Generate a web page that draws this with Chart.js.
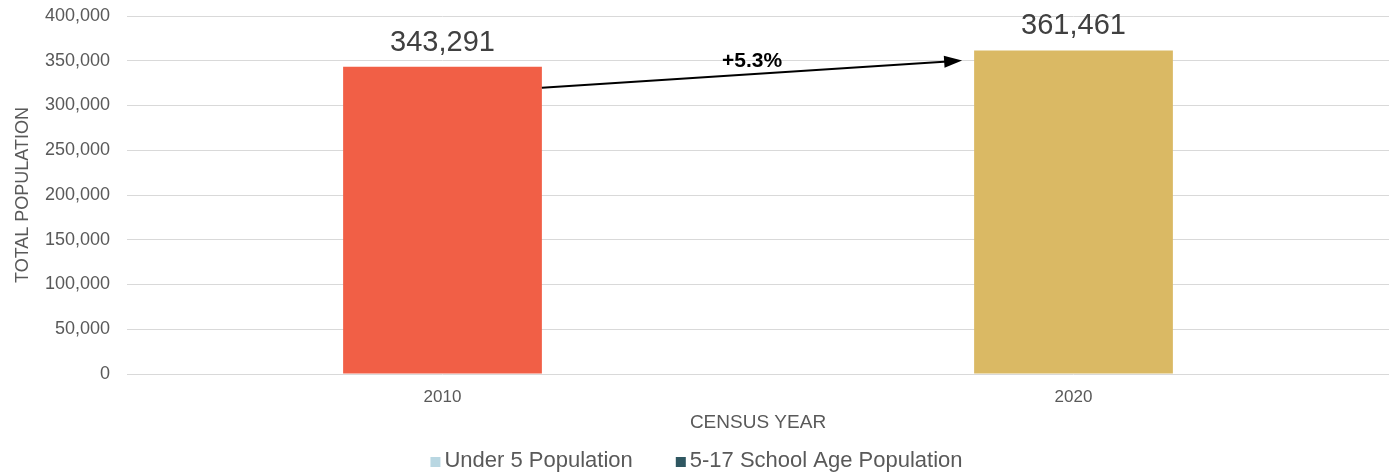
<!DOCTYPE html>
<html>
<head>
<meta charset="utf-8">
<script src="https://cdn.jsdelivr.net/npm/chart.js@4"></script>
<style>
  html, body { margin: 0; padding: 0; background: #fff; }
  #wrap { width: 1389px; height: 476px; }
</style>
</head>
<body>
<div id="wrap"><canvas id="pop-chart"></canvas></div>
<script>
// ─── データ ──────────────────────────────────
const YEARS = ['2010', '2020'];
const TOTAL_POP = [343291, 361461];
const BAR_COLORS = ['#F15F46', '#DAB964'];
const LEGEND_LABELS = ['Under 5 Population', '5-17 School Age Population'];
const LEGEND_COLORS = ['#B9D7E2', '#2F5761'];

const FONT = 'Liberation Sans, Arial, sans-serif';
const TXT = '#595959';

const fmt = v => v.toLocaleString('en-US');

// ─── 棒の上の数値ラベル & 増加率の矢印 ────────────────
const barLabels = {
  id: 'barLabels',
  afterDatasetsDraw(chart) {
    const { ctx } = chart;
    const bars = chart.getDatasetMeta(0).data;
    ctx.save();
    ctx.font = `29px ${FONT}`;
    ctx.fillStyle = '#404040';
    ctx.textAlign = 'center';
    ctx.textBaseline = 'middle';
    bars.forEach((b, i) => ctx.fillText(fmt(TOTAL_POP[i]), b.x, b.y - 24));

    // arrow between the two bars
    const a = bars[0], b = bars[1];
    const x0 = a.x + a.width / 2, y0 = a.y + 21;
    const x1 = b.x - b.width / 2 - 12, y1 = b.y + 10;
    const ang = Math.atan2(y1 - y0, x1 - x0);
    const hl = 18, hw = 6;
    ctx.strokeStyle = '#000';
    ctx.lineWidth = 2;
    ctx.beginPath();
    ctx.moveTo(x0, y0);
    ctx.lineTo(x1 - Math.cos(ang) * hl * 0.8, y1 - Math.sin(ang) * hl * 0.8);
    ctx.stroke();
    ctx.fillStyle = '#000';
    ctx.beginPath();
    ctx.moveTo(x1, y1);
    ctx.lineTo(x1 - Math.cos(ang) * hl - Math.sin(ang) * hw, y1 - Math.sin(ang) * hl + Math.cos(ang) * hw);
    ctx.lineTo(x1 - Math.cos(ang) * hl + Math.sin(ang) * hw, y1 - Math.sin(ang) * hl - Math.cos(ang) * hw);
    ctx.closePath();
    ctx.fill();

    const pct = (TOTAL_POP[1] - TOTAL_POP[0]) / TOTAL_POP[0] * 100;
    ctx.font = `bold 21px ${FONT}`;
    ctx.fillText('+' + pct.toFixed(1) + '%', (x0 + x1) / 2, (y0 + y1) / 2 - 13);
    ctx.restore();
  },
};

// ─── 凡例（下部・自前描画） ──────────────────────────
const bottomLegend = {
  id: 'bottomLegend',
  afterDraw(chart) {
    const { ctx } = chart;
    const box = 10, gap = 4, sep = 43;
    ctx.save();
    ctx.font = `22px ${FONT}`;
    ctx.textBaseline = 'middle';
    const widths = LEGEND_LABELS.map(t => box + gap + ctx.measureText(t).width);
    const total = widths.reduce((s, w) => s + w, 0) + sep * (widths.length - 1);
    let x = (chart.width - total) / 2 + 2;
    const y = chart.height - 15;
    LEGEND_LABELS.forEach((t, i) => {
      ctx.fillStyle = LEGEND_COLORS[i];
      ctx.fillRect(x, y - box / 2 + 1, box, box);
      ctx.fillStyle = TXT;
      ctx.fillText(t, x + box + gap, y);
      x += widths[i] + sep;
    });
    ctx.restore();
  },
};

new Chart(document.getElementById('pop-chart').getContext('2d'), {
  type: 'bar',
  data: {
    labels: YEARS,
    datasets: [{
      label: 'Total Population',
      data: TOTAL_POP,
      backgroundColor: BAR_COLORS,
      borderWidth: 0,
      categoryPercentage: 1,
      barPercentage: 0.315,
    }],
  },
  options: {
    responsive: true,
    maintainAspectRatio: false,
    animation: false,
    layout: { padding: { top: 16, left: 0, right: 0, bottom: 30 } },
    plugins: {
      tooltip: { enabled: false },
      legend: { display: false },
    },
    scales: {
      x: {
        grid: { display: false },
        border: { display: false },
        ticks: { color: TXT, font: { family: FONT, size: 17 }, padding: 5 },
        title: { display: true, text: 'CENSUS YEAR', color: TXT, font: { family: FONT, size: 19 }, padding: { top: 0, bottom: 12 } },
        afterFit: s => { s.height = 72; s.paddingLeft = 0; s.paddingRight = 0; },
      },
      y: {
        min: 0, max: 400000,
        grid: { color: '#D9D9D9', drawTicks: false },
        border: { display: false },
        ticks: { stepSize: 50000, color: TXT, font: { family: FONT, size: 18 }, padding: 17, callback: v => fmt(v) },
        title: { display: true, text: 'TOTAL POPULATION', color: TXT, font: { family: FONT, size: 18 }, padding: { top: 12, bottom: 0 } },
        afterFit: s => { s.width = 127; s.paddingTop = 0; s.paddingBottom = 0; },
      },
    },
  },
  plugins: [barLabels, bottomLegend],
});
</script>
</body>
</html>
